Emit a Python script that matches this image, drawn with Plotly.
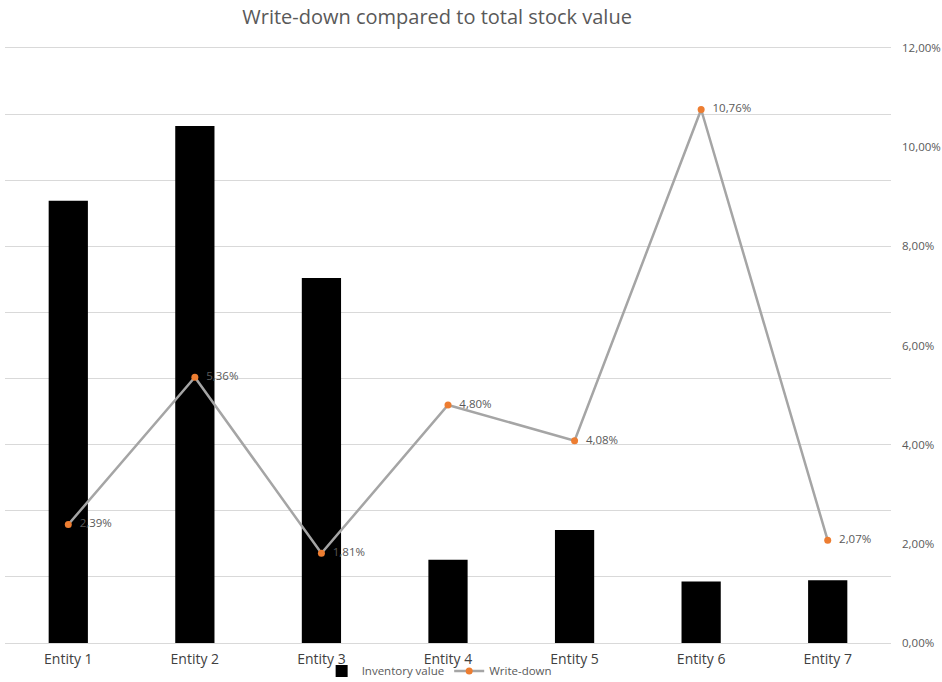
import plotly.graph_objects as go

# Entities and their figures
entities = ["Entity 1", "Entity 2", "Entity 3", "Entity 4", "Entity 5", "Entity 6", "Entity 7"]
inventory_value = [6.69, 7.82, 5.52, 1.26, 1.71, 0.93, 0.95]   # stock value (millions)
write_down_pct = [0.0239, 0.0536, 0.0181, 0.0480, 0.0408, 0.1076, 0.0207]

TEXT_GREY = "#595959"
LABEL_GREY = "#404040"
GRID = "#D9D9D9"

fig = go.Figure()

fig.add_trace(go.Bar(
    x=entities,
    y=inventory_value,
    name="Inventory value",
    marker=dict(color="#000000", line=dict(width=0)),
    yaxis="y",
))

fig.add_trace(go.Scatter(
    x=entities,
    y=write_down_pct,
    name="Write-down",
    mode="lines+markers+text",
    line=dict(color="#A5A5A5", width=2.5),
    marker=dict(color="#ED7D31", size=7),
    texttemplate="\u00a0\u00a0%{y:.2%}",
    textposition="middle right",
    textfont=dict(family="Open Sans", size=11.5, color=TEXT_GREY),
    yaxis="y2",
    cliponaxis=False,
))

fig.update_layout(
    width=942,
    height=682,
    separators=",.",
    paper_bgcolor="white",
    plot_bgcolor="white",
    margin=dict(l=5, r=51, t=48, b=39, autoexpand=False),
    title=dict(
        text="Write-down compared to total stock value",
        x=0.464, xanchor="center",
        y=0.975, yanchor="middle",
        font=dict(family="Open Sans", size=20, color=TEXT_GREY),
    ),
    bargap=0.69,
    showlegend=True,
    legend=dict(
        orientation="h",
        x=0.49, xanchor="center",
        y=-0.047, yanchor="middle",
        bgcolor="rgba(0,0,0,0)",
        font=dict(family="Open Sans", size=11.5, color=TEXT_GREY),
        itemwidth=30,
        tracegroupgap=0,
    ),
    xaxis=dict(
        type="category",
        showline=True,
        mirror=True,          # top border doubles as the highest gridline
        linecolor=GRID,
        linewidth=1,
        ticks="",
        ticklabelstandoff=3,
        tickfont=dict(family="Open Sans", size=14, color=LABEL_GREY),
        showgrid=False,
    ),
    yaxis=dict(
        range=[0, 9],
        dtick=1,
        showticklabels=False,
        showgrid=True,
        gridcolor=GRID,
        gridwidth=1,
        zeroline=False,
        showline=False,
        ticks="",
    ),
    yaxis2=dict(
        overlaying="y",
        side="right",
        range=[0, 0.12],
        dtick=0.02,
        tickformat=".2%",
        showgrid=False,
        zeroline=False,
        showline=False,
        ticks="",
        ticklabelstandoff=10,
        tickfont=dict(family="Open Sans", size=11.5, color=TEXT_GREY),
    ),
)

fig.write_html("out.html")
